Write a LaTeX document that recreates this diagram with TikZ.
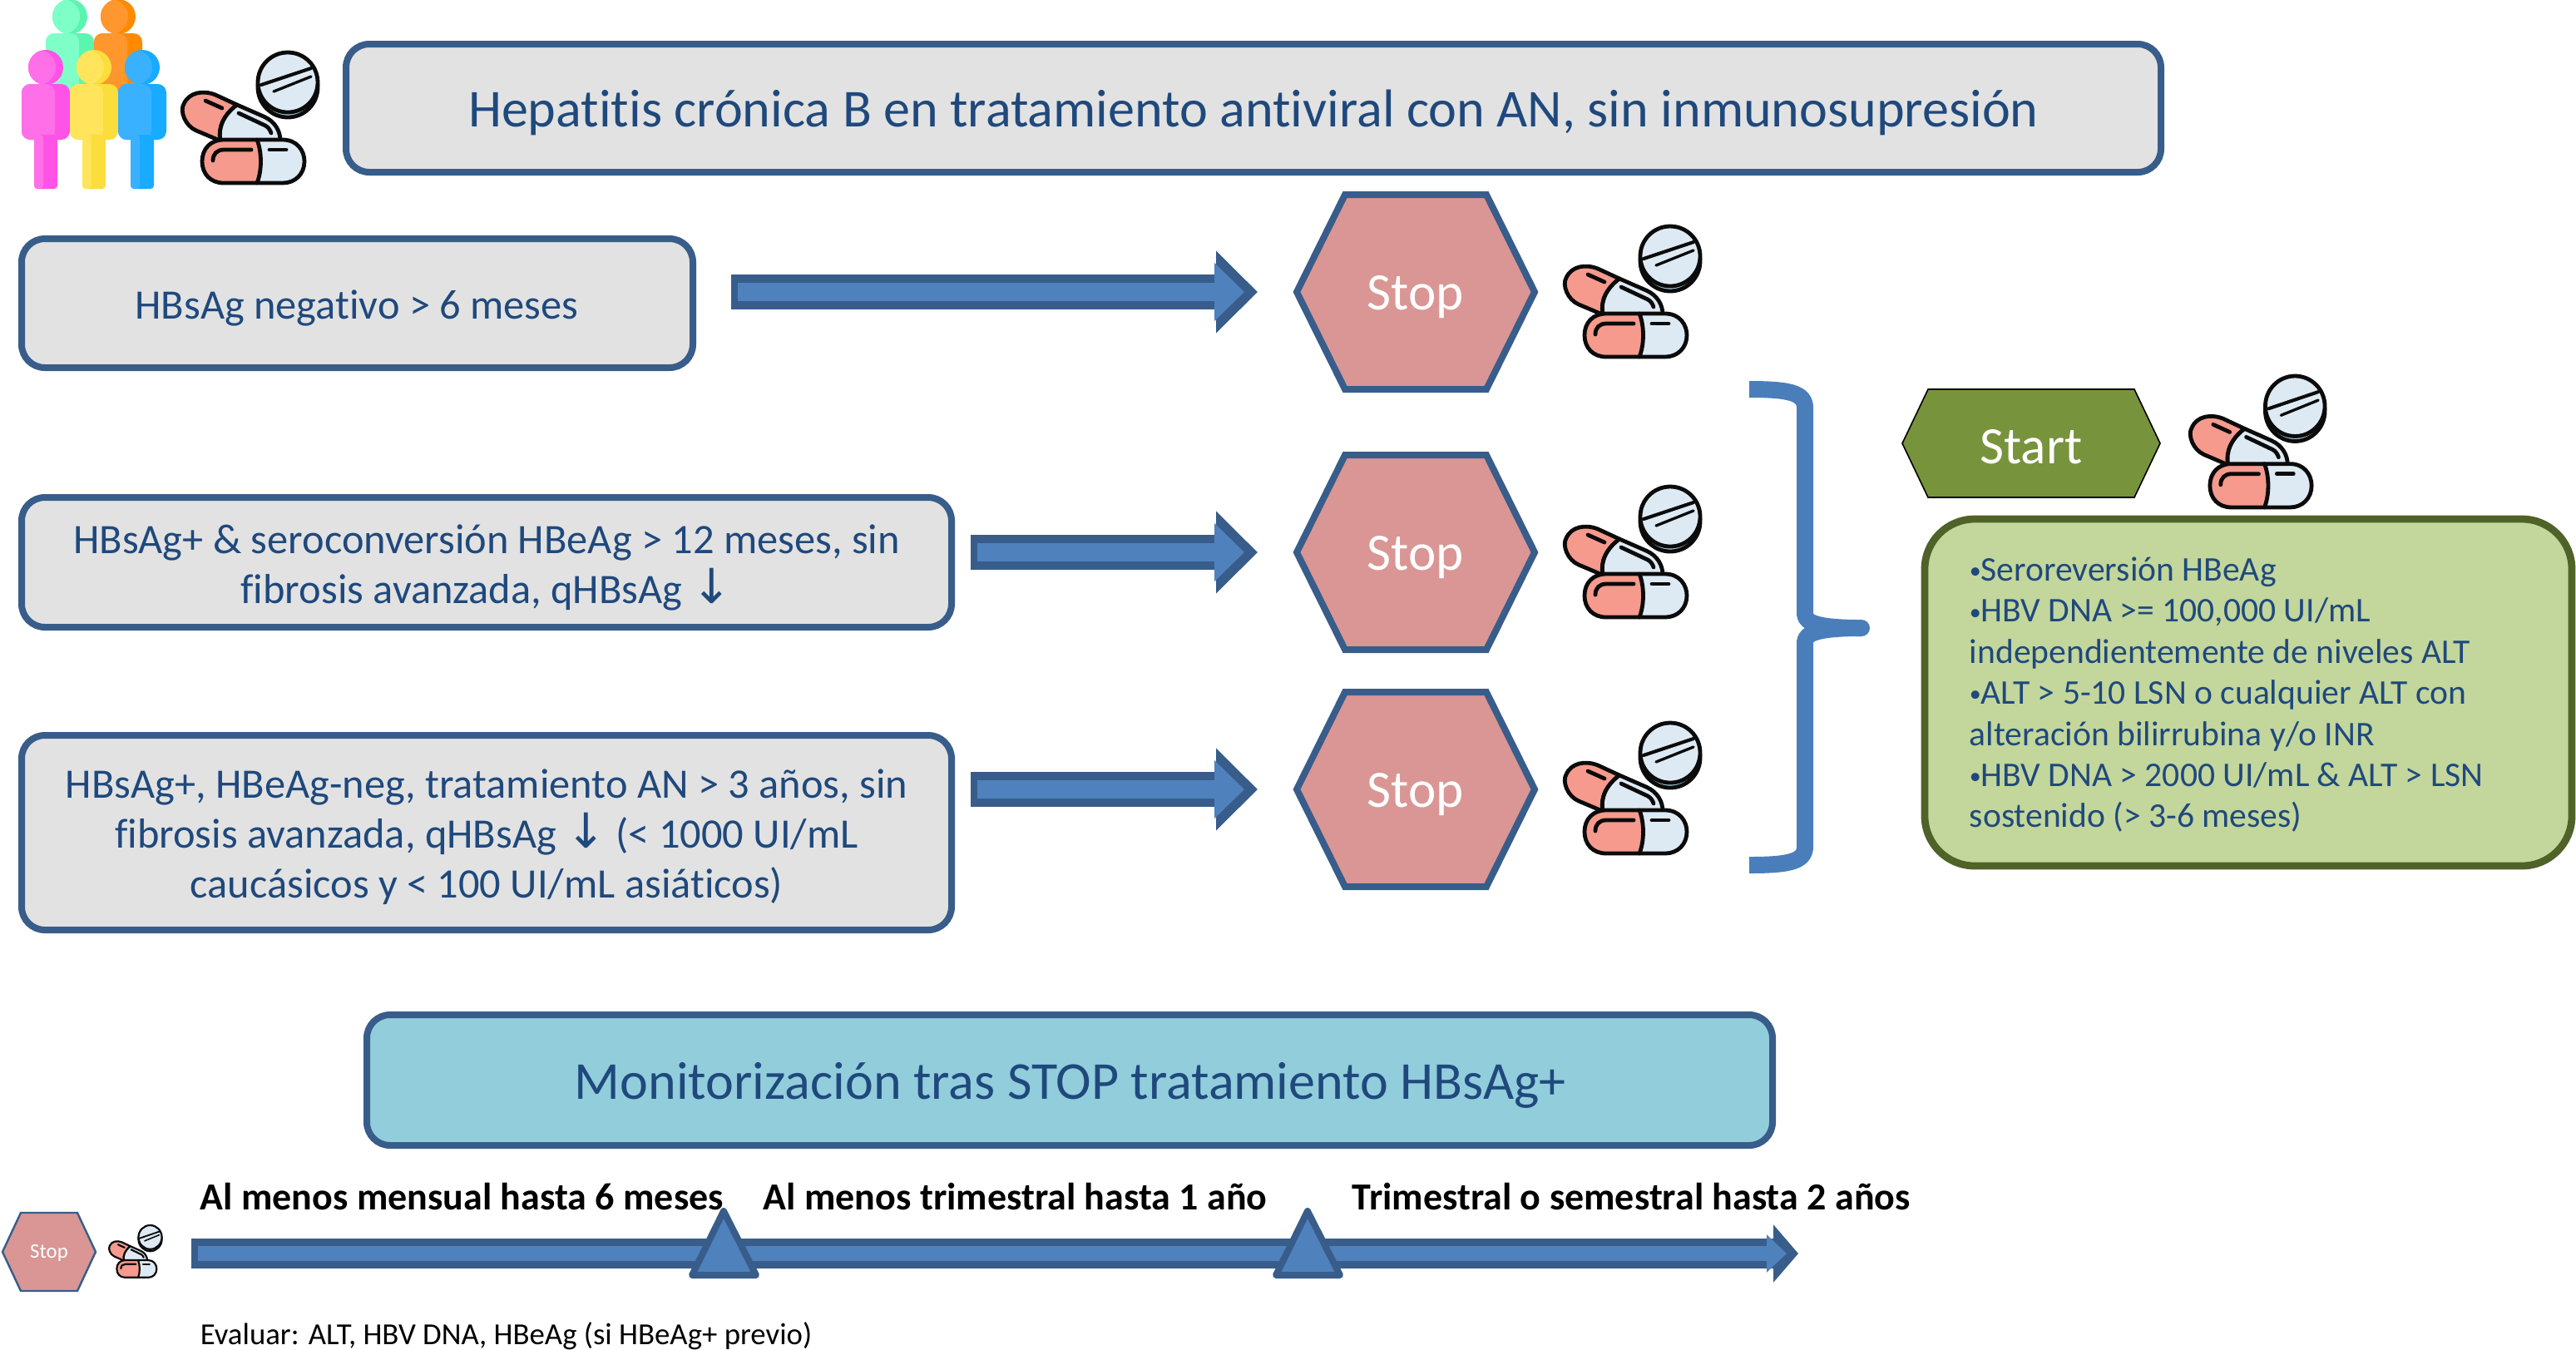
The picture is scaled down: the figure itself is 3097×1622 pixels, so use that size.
\documentclass[tikz,border=0pt]{standalone}
\usepackage{fontspec}
\setmainfont[Ligatures={NoCommon,TeX}]{Carlito}
\newfontfamily\arrowfont{DejaVu Sans}
\usetikzlibrary{arrows.meta,calc}
\definecolor{boxfill}{HTML}{E2E2E2}
\definecolor{edgeblue}{HTML}{385D8A}
\definecolor{textblue}{HTML}{1F497D}
\definecolor{arrowblue}{HTML}{4F81BD}
\definecolor{hexred}{HTML}{D99694}
\definecolor{startgreen}{HTML}{77933C}
\definecolor{panelgreen}{HTML}{C3D69B}
\definecolor{paneledge}{HTML}{4F6228}
\definecolor{monitorblue}{HTML}{92CDDC}
\definecolor{bracketblue}{HTML}{4A7EBB}
\definecolor{pillred}{HTML}{F59A8C}
\definecolor{pillwhite}{HTML}{DEEAF3}
\definecolor{pilldeep}{HTML}{A9D2DE}
\definecolor{pillink}{HTML}{0B0B0B}
\definecolor{pg1}{HTML}{7FFFC8}\definecolor{pg2}{HTML}{5CF5B0}
\definecolor{po1}{HTML}{FF962E}\definecolor{po2}{HTML}{FF8A00}
\definecolor{pm1}{HTML}{FF6FE8}\definecolor{pm2}{HTML}{FF52E6}
\definecolor{py1}{HTML}{FFE45C}\definecolor{py2}{HTML}{FBDD3B}
\definecolor{pb1}{HTML}{39B1FF}\definecolor{pb2}{HTML}{18ABFF}
\newcommand{\bul}{\raisebox{0.7pt}{\fontsize{7pt}{8pt}\selectfont •}}
\newcommand{\dnarrow}{{\arrowfont\fontsize{14.5pt}{15pt}\selectfont ↓}}
\tikzset{
  x=0.25pt,y=-0.25pt,
  boxstyle/.style={draw=edgeblue,fill=boxfill,line width=2pt,rounded corners=7pt},
  boxtext/.style={text=textblue,align=center,inner sep=0pt,font=\fontsize{12.6pt}{15pt}\selectfont},
  titletext/.style={text=textblue,align=center,inner sep=0pt,font=\fontsize{16.03pt}{18pt}\selectfont},
  hexstop/.style={draw=edgeblue,fill=hexred,line width=2pt,line join=miter},
  hexsmall/.style={draw=edgeblue,fill=hexred,line width=0.6pt},
  hexstart/.style={fill=startgreen},
  bigarrow/.style={draw=arrowblue,line width=5.5pt,shorten <=2pt,shorten >=4pt,
    -{Triangle[length=9pt,width=17pt]},
    preaction={draw=edgeblue,line width=10.5pt,shorten <=0pt,shorten >=0pt,
    -{Triangle[length=12.5pt,width=24pt]}}},
  lowarrow/.style={draw=arrowblue,line width=4.4pt,shorten <=2pt,shorten >=3.5pt,
    -{Triangle[length=6pt,width=11pt]},
    preaction={draw=edgeblue,line width=8.8pt,shorten <=0pt,shorten >=0pt,
    -{Triangle[length=7.5pt,width=17pt]}}},
  marker/.style={draw=edgeblue,fill=arrowblue,line width=2pt,line join=round},
  inkline/.style={draw=pillink,line cap=round,line join=round},
  pics/pillicon/.style={code={
    \begin{scope}[inkline,line width=#1]
      \fill[pilldeep] (127,42) circle[radius=36];
      \draw (127,42) circle[radius=36];
      \filldraw[fill=pillwhite] (127,36) circle[radius=36];
      \draw[line width=0.85*#1] (95,39) -- (155,19);
      \draw[line width=0.7*#1] (110,47) -- (155,29);
      \filldraw[fill=pillred] (43,105) -- (17,94) .. controls (3,88) and (-3,70) .. (2,62)
        .. controls (8,48) and (25,45) .. (40,51) -- (66,63)
        .. controls (50,75) and (43,90) .. (46,105) -- cycle;
      \filldraw[fill=pillwhite] (66,63) -- (98,77) .. controls (112,83) and (118,95) .. (118,106)
        -- (46,106) .. controls (43,90) and (50,75) .. (66,63) -- cycle;
      \draw (28,58) -- (48,67);
      \draw (68,73) -- (100,88) .. controls (104,90) and (106,94) .. (107,97);
      \filldraw[fill=pillwhite] (90,105) -- (121,105) .. controls (138,105) and (147,118) .. (147,131)
        .. controls (147,146) and (136,157) .. (121,157) -- (90,157) -- cycle;
      \filldraw[fill=pillred] (50,105) -- (90,105) .. controls (96,120) and (96,142) .. (90,157)
        -- (50,157) .. controls (34,157) and (24,146) .. (24,131)
        .. controls (24,116) and (34,105) .. (50,105) -- cycle;
      \draw (37,130) .. controls (37,122) and (42,117) .. (50,117) -- (83,117);
      \draw (105,117) -- (125,117);
    \end{scope}
  }}
}
\newcommand{\hexnode}[9]{%
  \draw[#7] (#2-#4,#3) -- (#2-#6,#3-#5) -- (#2+#6,#3-#5) -- (#2+#4,#3) -- (#2+#6,#3+#5) -- (#2-#6,#3+#5) -- cycle;
  \node[inner sep=0pt,text=white,yshift=#9,minimum width=#4*0.5pt,minimum height=#5*0.5pt] (#1) at (#2,#3) {#8};}
\newcommand{\personicon}[6]{%
  \fill[#4] (#1,#2) circle[radius=21];
  \begin{scope}
    \clip (#1,#2) circle[radius=21];
    \fill[#3] (#1-9,#2) circle[radius=21];
  \end{scope}
  \fill[#4,rounded corners=2.6pt] (#1-29,#2+20) rectangle (#1+29,#2+#5);
  \fill[#3,rounded corners=2.6pt] (#1-29,#2+20) rectangle (#1+11,#2+#5);
  \ifnum#6=1
    \fill[#4,rounded corners=1pt] (#1-14,#2+#5-6) rectangle (#1+14,#2+146);
    \fill[#3,rounded corners=1pt] (#1-14,#2+#5-6) rectangle (#1-3,#2+146);
  \fi}
\begin{document}
\begin{tikzpicture}
\useasboundingbox (0,0) rectangle (3097,1622);
% people
\personicon{84}{20}{pg1}{pg2}{115}{0}
\personicon{142}{20}{po1}{po2}{115}{0}
\personicon{55}{81}{pm1}{pm2}{87}{1}
\personicon{113}{81}{py1}{py2}{87}{1}
\personicon{171}{81}{pb1}{pb2}{87}{1}
\pic at (219,63) {pillicon=1.2pt};
% title
\draw[boxstyle] (416,53) rectangle (2598,207);
\node[titletext] (title) at (1507,135) {Hepatitis crónica B en tratamiento antiviral con AN, sin inmunosupresión};
% left boxes
\draw[boxstyle] (26,287) rectangle (833,442);
\node[boxtext] (b1) at (429,370) {HBsAg negativo > 6 meses};
\draw[boxstyle] (26,598) rectangle (1144,754);
\node[boxtext] (b2) at (585,682) {HBsAg+ \& seroconversión HBeAg > 12 meses, sin\\fibrosis avanzada, qHBsAg \dnarrow};
\draw[boxstyle] (26,884) rectangle (1144,1118);
\node[boxtext] (b3) at (585,1006) {HBsAg+, HBeAg-neg, tratamiento AN > 3 años, sin\\fibrosis avanzada, qHBsAg \dnarrow{} (< 1000 UI/mL\\caucásicos y < 100 UI/mL asiáticos)};
% stop hexagons
\hexnode{s1}{1702}{351}{143}{117}{85}{hexstop}{\fontsize{15.8pt}{18pt}\selectfont Stop}{-1.5pt}
\hexnode{s2}{1702}{664}{143}{117}{85}{hexstop}{\fontsize{15.8pt}{18pt}\selectfont Stop}{-1.5pt}
\hexnode{s3}{1702}{949}{143}{117}{85}{hexstop}{\fontsize{15.8pt}{18pt}\selectfont Stop}{-1.5pt}
\pic at (1881,272) {pillicon=1.2pt};
\pic at (1881,585) {pillicon=1.2pt};
\pic at (1881,869) {pillicon=1.2pt};
% block arrows
\coordinate (a1) at (879,351);
\coordinate (a2) at (1167,664);
\coordinate (a3) at (1167,949);
\draw[bigarrow] (a1) -- (1512,351);
\draw[bigarrow] (a2) -- (1512,664);
\draw[bigarrow] (a3) -- (1512,949);
% bracket
\draw[draw=bracketblue,line width=5pt,line cap=butt,line join=round]
  (2103,468) .. controls (2150,468) and (2170,472) .. (2170,490) -- (2170,738)
  .. controls (2170,750) and (2190,755) .. (2238,755);
\draw[draw=bracketblue,line width=5pt,line cap=butt,line join=round]
  (2103,1040) .. controls (2150,1040) and (2170,1036) .. (2170,1018) -- (2170,772)
  .. controls (2170,760) and (2190,755) .. (2238,755);
\fill[bracketblue] (2238,755) circle[radius=10];
% start
\hexnode{st}{2442}{533}{155}{65}{124}{hexstart}{\fontsize{15.8pt}{18pt}\selectfont Start}{-1.1pt}
\pic[xscale=0.994,yscale=1.006] at (2633,452) {pillicon=1.2pt};
\draw[draw=paneledge,fill=panelgreen,line width=2.2pt,rounded corners=15pt] (2314,624) rectangle (3092,1041);
\node[text=textblue,align=left,inner sep=0pt,anchor=north west,font=\fontsize{10.4pt}{12.35pt}\selectfont] (crit) at (2367,669)
 {\bul Seroreversión HBeAg\\\bul HBV DNA >= 100,000 UI/mL\\independientemente de niveles ALT\\\bul ALT > 5-10 LSN o cualquier ALT con\\alteración bilirrubina y/o INR\\\bul HBV DNA > 2000 UI/mL \& ALT > LSN\\sostenido (> 3-6 meses)};
% monitoring
\draw[boxstyle,fill=monitorblue] (441,1220) rectangle (2131,1377);
\node[titletext] (mon) at (1287,1305) {Monitorización tras STOP tratamiento HBsAg+};
% timeline
\hexnode{s0}{59}{1505}{56}{47}{34}{hexsmall}{\fontsize{6.2pt}{8pt}\selectfont Stop}{-0.3pt}
\pic[xscale=0.39,yscale=0.40] at (131,1473) {pillicon=0.55pt};
\coordinate (t0) at (230,1507);
\coordinate (t1) at (2162,1507);
\draw[lowarrow] (t0) -- (t1);
\draw[marker] (870,1456) -- (832,1533) -- (909,1533) -- cycle;
\draw[marker] (1572,1456) -- (1534,1533) -- (1611,1533) -- cycle;
\node[anchor=base west,inner sep=0pt,font=\bfseries\fontsize{11.5pt}{13pt}\selectfont] (l1) at (240,1454) {Al menos mensual hasta 6 meses};
\node[anchor=base west,inner sep=0pt,font=\bfseries\fontsize{11.5pt}{13pt}\selectfont] (l2) at (917,1454) {Al menos trimestral hasta 1 año};
\node[anchor=base west,inner sep=0pt,font=\bfseries\fontsize{11.5pt}{13pt}\selectfont] (l3) at (1625,1454) {Trimestral o semestral hasta 2 años};
\node[anchor=base west,inner sep=0pt,font=\fontsize{9.2pt}{11pt}\selectfont] (l4) at (240,1616) {Evaluar: ALT, HBV DNA, HBeAg (si HBeAg+ previo)};
\end{tikzpicture}
\end{document}
